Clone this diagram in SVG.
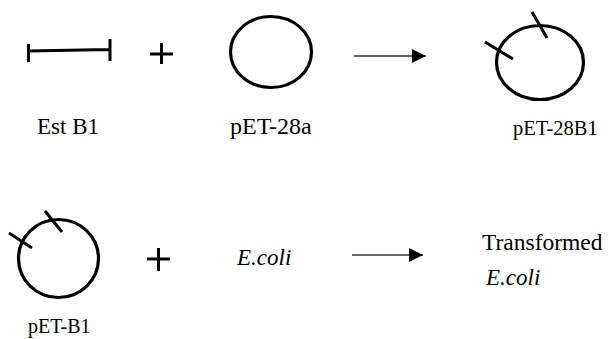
<svg xmlns="http://www.w3.org/2000/svg" width="609" height="339" viewBox="0 0 609 339">
<style>
.s{fill:none;stroke:#000;stroke-width:3;stroke-linecap:butt}
.c{fill:none;stroke:#000;stroke-width:3.2}
.t{font-family:"Liberation Serif","Times New Roman",serif;fill:#000}
.i{font-style:italic}
.a{stroke:#333;stroke-width:1.4;fill:none}
</style>
<defs>
<marker id="ah" viewBox="0 0 14 14" refX="14" refY="7" markerWidth="14" markerHeight="14" markerUnits="userSpaceOnUse" orient="auto">
<path d="M0,0 L14,7 L0,14 Z" fill="#000"/>
</marker>
</defs>
<rect width="609" height="339" fill="#fff"/>
<g id="estb1">
<path class="s" d="M28,51 L110,49.5 M28.5,44 V62 M110,39 V61"/>
<text class="t" x="37" y="134" font-size="23">Est B1</text>
</g>
<g id="plus1">
<path class="s" d="M150,54 H173 M161.5,43 V64" stroke-width="2.6"/>
</g>
<g id="pet28a">
<ellipse class="c" cx="271" cy="52" rx="40.5" ry="35.5"/>
<text class="t" x="230" y="134" font-size="24">pET-28a</text>
</g>
<g id="pet28b1">
<ellipse class="c" cx="540" cy="62.5" rx="43.5" ry="37"/>
<path class="s" d="M485,42 L513,59 M532,12 L547,38"/>
<text class="t" x="513" y="135" font-size="20.5">pET-28B1</text>
</g>
<g id="petb1">
<ellipse class="c" cx="58.5" cy="258.5" rx="40" ry="39"/>
<path class="s" d="M9,233 L32,248 M45,211 L62,232"/>
<text class="t" x="28" y="333" font-size="20">pET-B1</text>
</g>
<g id="plus2">
<path class="s" d="M147,259 H170 M158.5,248 V271" stroke-width="2.6"/>
</g>
<g id="ecoli">
<text class="t i" x="237" y="265" font-size="23">E.coli</text>
</g>
<g id="transformed">
<text class="t" x="482" y="250" font-size="23.5">Transformed</text>
<text class="t i" x="486" y="285" font-size="23">E.coli</text>
</g>
<g id="connectors">
<line class="a" x1="354" y1="56" x2="426" y2="56" marker-end="url(#ah)"/>
<line class="a" x1="352" y1="255" x2="423" y2="255" marker-end="url(#ah)"/>
</g>
</svg>
